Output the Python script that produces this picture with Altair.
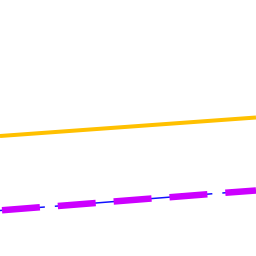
import altair as alt
import pandas as pd

x_vals = [0.0, 1.0]
yellow_vals = [46.9, 54.1]
blue_vals = [17.8, 25.6]
purple_vals = [17.8, 25.6]

df_y = pd.DataFrame({"x": x_vals, "y": yellow_vals})
df_b = pd.DataFrame({"x": x_vals, "y": blue_vals})
df_p = pd.DataFrame({"x": x_vals, "y": purple_vals})

xs = alt.Scale(domain=[0, 1], nice=False, zero=False)
ys = alt.Scale(domain=[0, 100], nice=False, zero=False)

def enc(ch):
    return ch.encode(
        x=alt.X("x:Q", scale=xs, axis=None),
        y=alt.Y("y:Q", scale=ys, axis=None),
    )

yellow = enc(alt.Chart(df_y).mark_line(color="#FFC000", strokeWidth=4, clip=True))
blue = enc(alt.Chart(df_b).mark_line(color="#1010FF", strokeWidth=1.5,
                                      strokeDash=[158, 10], strokeDashOffset=113, clip=True))
purple = enc(alt.Chart(df_p).mark_line(color="#CC00FF", strokeWidth=6.5,
                                        strokeDash=[38, 18], strokeDashOffset=54, clip=True))

chart = alt.layer(yellow, blue, purple).properties(
    width=256, height=256, padding=0,
    autosize=alt.AutoSizeParams(type="none"),
).configure_view(stroke=None)

chart.save("out.html", embed_options={"renderer": "svg", "actions": False})
